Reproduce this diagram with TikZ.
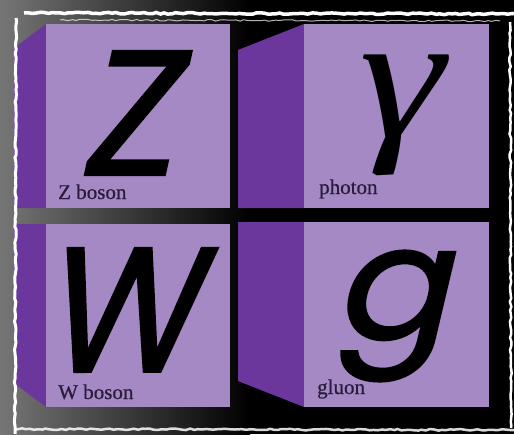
\documentclass[tikz,border=0pt]{standalone}
\usepackage{graphicx}
\usepackage{fontspec}
\setmainfont{Liberation Serif}
\newfontfamily\labfont[FakeBold=0.6]{Liberation Serif}
\newfontfamily\geo[FakeSlant=0.22,FakeBold=1.5]{Poppins}
\usetikzlibrary{decorations.pathmorphing}
\definecolor{frontc}{HTML}{A489C5}
\definecolor{sidec}{HTML}{6C379C}
\definecolor{labc}{HTML}{2A1C3C}
\definecolor{bgl}{HTML}{767676}
\newcommand\geofont[1]{\geo\fontsize{#1}{#1}\selectfont}
\newcommand\gamfont{\itshape\fontsize{180}{180}\selectfont}
\tikzset{
  letter/.style={inner sep=0pt, text=black},
  lab/.style={inner sep=0pt, anchor=base west, text=labc, font=\labfont\fontsize{21}{21}\selectfont},
  front/.style={fill=frontc},
  side/.style={fill=sidec},
  rag/.style={draw=white, line width=#1, decorate, decoration={random steps, segment length=4pt, amplitude=0.8pt}}
}
\begin{document}
\begin{tikzpicture}[x=1pt,y=-1pt]
\useasboundingbox (0,0) rectangle (514,434);
\pgfmathsetseed{7}
% background
\shade[left color=bgl, right color=black] (0,0) rectangle (250,434);
\fill[black] (250,0) rectangle (514,434);
% Z box
\fill[side] (14,48) -- (46,24) -- (46,208) -- (14,208) -- cycle;
\fill[front] (46,24) rectangle (230,208);
% photon box
\fill[side] (238,50) -- (304,24) -- (304,208) -- (238,208) -- cycle;
\fill[front] (304,24) rectangle (489,208);
% W box
\fill[side] (14,224) -- (46,224) -- (46,407) -- (14,383) -- cycle;
\fill[front] (46,224) rectangle (230,407);
% gluon box
\fill[side] (238,222) -- (304,222) -- (304,407) -- (238,381) -- cycle;
\fill[front] (304,222) rectangle (489,407);
% letters
\node[letter, font=\geofont{177}] (zl) at (125,113) {Z};
\node[letter, font=\gamfont] (gl) at (402,115) {\scalebox{1.2}[1]{γ}};
\node[letter, font=\geofont{177}] (wl) at (118,310) {\scalebox{0.91}[1]{W}};
\node[letter, font=\geofont{152}] (gll) at (390,316) {\scalebox{1.12}[1.04]{g}};
% labels
\node[lab] (zlab) at (58,199) {Z boson};
\node[lab] (plab) at (319,194) {photon};
\node[lab] (wlab) at (58,399) {W boson};
\node[lab] (glab) at (317,394) {gluon};
% ragged white frame
\draw[rag=3.5] (24,13) -- (514,14);
\draw[rag=1, draw opacity=0.7] (60,20) -- (500,21);
\draw[rag=3] (16,18) -- (15,434);
\draw[rag=2.5] (510,22) -- (511,428);
\draw[rag=2.5, draw opacity=0.85] (14,429) -- (514,430);
\end{tikzpicture}
\end{document}
